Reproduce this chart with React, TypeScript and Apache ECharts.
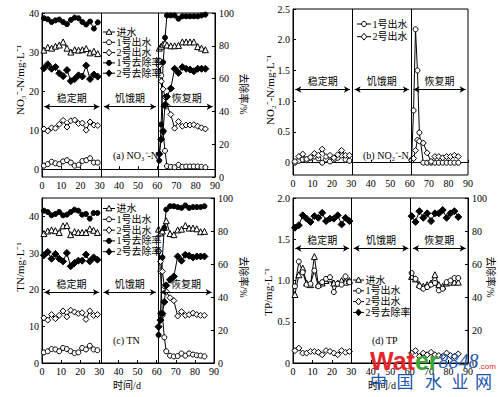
import React, { useEffect, useRef } from "react";
import * as echarts from "echarts";

const FONT = "'Liberation Serif', 'Times New Roman', 'Noto Sans CJK SC', serif";

// sampling days
const stableDays = [1, 3, 5, 7, 9, 11, 13, 15, 17, 19, 21, 23, 25, 27, 29];
const recDays = [61, 62, 63, 64, 65, 67, 69, 71, 73, 75, 77, 79, 81, 83, 85];
const recDaysTP = [61, 63, 65, 67, 69, 71, 73, 75, 77, 79, 81, 83, 85];

// (a) NO3--N
const no3InS = [30.5, 31.2, 31.0, 31.5, 31.8, 32.6, 31.0, 30.0, 30.6, 30.5, 30.6, 30.9, 29.8, 30.2, 29.6];
const no3Out1S = [0.9, 1.3, 1.9, 1.5, 1.3, 2.0, 2.3, 1.7, 0.9, 1.1, 2.1, 2.3, 2.8, 1.7, 1.7];
const no3Out2S = [10.3, 9.8, 10.6, 10.5, 11.5, 12.5, 10.8, 12.4, 12.6, 11.7, 11.8, 10.0, 12.1, 11.3, 11.2];
const no3Rem1S = [96.8, 96.2, 94.5, 95.5, 96.0, 94.5, 93.2, 95.8, 97.2, 96.8, 94.5, 93.0, 94.8, 90.5, 94.3];
const no3Rem2S = [66.3, 68.7, 66.0, 67.0, 63.2, 61.5, 65.2, 58.5, 59.7, 62.0, 61.3, 68.0, 59.7, 62.5, 61.2];
const no3InR = [31.0, 31.5, 32.0, 32.3, 31.8, 31.6, 31.6, 31.7, 32.6, 32.6, 32.6, 32.6, 31.4, 31.0, 30.6];
const no3Out1R = [27.8, 24.0, 9.5, 4.7, 0.8, 0.6, 0.5, 1.1, 0.6, 0.7, 0.7, 0.7, 0.7, 0.6, 0.5];
const no3Out2R = [26.5, 22.5, 20.5, 18.5, 16.3, 14.0, 10.5, 12.2, 11.0, 11.3, 11.3, 11.4, 11.0, 10.6, 10.3];
const no3Rem1R = [10, 32, 70, 85, 98.5, 98.5, 98.5, 96.5, 98, 98, 98, 98, 98, 98.5, 99];
const no3Rem2R = [14, 23, 28, 44, 49, 54, 66, 63.5, 67, 66, 65.5, 64.5, 66, 66, 66];

// (b) NO2--N
const no2Out1S = [0.0, 0.03, 0.05, 0.04, 0.08, 0.1, 0.07, 0.0, 0.05, 0.02, 0.05, 0.08, 0.12, 0.05, 0.03];
const no2Out2S = [0.02, 0.1, 0.14, 0.06, 0.09, 0.15, 0.12, 0.22, 0.1, 0.12, 0.08, 0.13, 0.2, 0.12, 0.12];
const no2Out1R = [0.05, 0.85, 2.17, 1.5, 0.49, 0.0, 0.0, 0.0, 0.0, 0.0, 0.0, 0.0, 0.0, 0.0, 0.0];
const no2Out2R = [0.04, 0.07, 0.2, 0.37, 0.35, 0.32, 0.16, 0.02, 0.1, 0.1, 0.08, 0.1, 0.1, 0.12, 0.1];

// (c) TN
const tnInS = [35.3, 36.0, 36.3, 36.1, 35.6, 37.4, 37.5, 35.0, 35.8, 35.6, 35.6, 35.6, 36.6, 36.2, 35.6];
const tnOut1S = [2.9, 3.2, 3.8, 3.7, 3.2, 4.1, 3.8, 3.2, 2.7, 2.9, 4.1, 3.7, 4.7, 3.7, 3.5];
const tnOut2S = [12.3, 11.7, 13.2, 12.1, 13.0, 14.2, 12.6, 14.4, 13.9, 13.5, 13.7, 11.9, 14.2, 13.0, 13.2];
const tnRem1S = [92.3, 91.5, 89.5, 90.3, 91.5, 89.5, 89.9, 91.5, 92.9, 92.3, 89.9, 90.3, 87.5, 90.9, 90.9];
const tnRem2S = [65.3, 67.3, 63.2, 66.1, 63.2, 61.6, 66.7, 58.6, 60.6, 62.0, 62.0, 65.7, 61.6, 64.0, 62.6];
const tnInR = [36.5, 35.5, 36.0, 37.0, 38.8, 35.3, 35.0, 36.3, 36.5, 37.5, 36.8, 36.8, 36.6, 35.8, 35.9];
const tnOut1R = [30.5, 25.0, 13.0, 7.0, 3.2, 2.0, 1.8, 1.9, 2.6, 2.0, 2.6, 2.3, 2.1, 2.0, 1.8];
const tnOut2R = [30.5, 27.7, 25.0, 21.0, 19.5, 17.8, 17.0, 12.8, 14.0, 13.0, 13.2, 13.6, 13.2, 13.0, 13.0];
const tnRem1R = [17, 30, 64, 82, 93, 95, 95, 94.5, 94, 95.5, 94, 94.5, 94.5, 94.5, 95];
const tnRem2R = [22, 26, 30, 37, 47, 50.5, 52.5, 64.6, 62, 65.6, 65, 64, 64.6, 64.6, 64.6];

// (d) TP
const tpInS = [0.83, 1.07, 1.15, 0.97, 0.95, 1.29, 0.95, 0.97, 1.0, 1.02, 0.97, 0.97, 1.0, 0.98, 1.0];
const tpOut1S = [0.93, 1.23, 1.1, 0.95, 0.96, 1.12, 0.93, 0.98, 1.02, 1.04, 0.86, 0.96, 0.95, 1.05, 0.98];
const tpOut2S = [0.15, 0.18, 0.12, 0.12, 0.14, 0.14, 0.13, 0.1, 0.15, 0.14, 0.12, 0.1, 0.15, 0.13, 0.14];
const tpRem2S = [82, 83.5, 89.5, 87.5, 85.5, 89, 88, 91, 86, 87.5, 87.5, 89.5, 84, 88, 86];
const tpInR = [1.05, 1.02, 0.95, 0.93, 0.95, 0.97, 1.07, 0.95, 0.93, 0.97, 0.98, 0.98, 0.98];
const tpOut1R = [1.09, 1.02, 0.93, 0.9, 0.92, 0.95, 0.97, 0.88, 0.9, 0.98, 1.0, 1.03, 1.03];
const tpOut2R = [0.12, 0.15, 0.08, 0.12, 0.1, 0.13, 0.1, 0.09, 0.08, 0.12, 0.09, 0.08, 0.11];
const tpRem2R = [89, 85.5, 92, 88, 90.7, 86, 90.7, 90.7, 92.7, 88, 90.7, 92, 88.5];

const periods = ["稳定期", "饥饿期", "恢复期"];
const names5 = ["进水", "1号出水", "2号出水", "1号去除率", "2号去除率"];
const namesTP = ["进水", "1号出水", "2号出水", "2号去除率"];

const STY: Record<string, { symbol: string; size: number; fill: string }> = {
  "进水": { symbol: "triangle", size: 6, fill: "#fff" },
  "1号出水": { symbol: "circle", size: 5, fill: "#fff" },
  "2号出水": { symbol: "diamond", size: 6, fill: "#fff" },
  "1号去除率": { symbol: "circle", size: 5, fill: "#000" },
  "2号去除率": { symbol: "diamond", size: 7, fill: "#000" },
};

function seg(d1: number[], v1: number[], d2: number[], v2: number[]) {
  return [
    ...d1.map((d, i) => [d, v1[i]]),
    [45, null],
    ...d2.map((d, i) => [d, v2[i]]),
  ];
}

function ser(name: string, data: any[], xi: number, yi: number, extra: any = {}) {
  const s = STY[name];
  return {
    type: "line",
    name,
    data,
    xAxisIndex: xi,
    yAxisIndex: yi,
    symbol: s.symbol,
    symbolSize: s.size,
    showAllSymbol: true,
    connectNulls: false,
    itemStyle: { color: s.fill, borderColor: "#000", borderWidth: 1 },
    lineStyle: { color: "#000", width: 1 },
    emphasis: { disabled: true },
    ...extra,
  };
}

function arrowsML(y: number, b1: number, b2: number) {
  return {
    silent: true,
    symbol: ["arrow", "arrow"],
    symbolSize: [5, 6],
    lineStyle: { color: "#000", width: 1, type: "solid" },
    label: { show: true, position: "middle", formatter: "{b}", color: "#000", fontSize: 10, fontFamily: FONT, distance: 3 },
    data: [
      [{ name: periods[0], coord: [1.2, y] }, { coord: [b1 - 1.2, y] }],
      [{ name: periods[1], coord: [b1 + 1.2, y] }, { coord: [b2 - 1.2, y] }],
      [{ name: periods[2], coord: [b2 + 1.2, y] }, { coord: [88.8, y] }],
    ],
  };
}

function vlinesML(b1: number, b2: number) {
  return {
    silent: true,
    symbol: "none",
    lineStyle: { color: "#000", width: 1, type: "solid" },
    label: { show: false },
    data: [{ xAxis: b1 }, { xAxis: b2 }],
  };
}

const axisCommon = {
  axisLine: { show: true, lineStyle: { color: "#000", width: 1 } },
  splitLine: { show: false },
};

function xAx(gi: number) {
  return {
    type: "value", gridIndex: gi, min: 0, max: 90, interval: 10,
    ...axisCommon,
    axisTick: { inside: true, length: 3, lineStyle: { color: "#000" } },
    axisLabel: { color: "#000", fontSize: 10, fontFamily: FONT, margin: 3 },
  };
}

function yAx(gi: number, pos: string, min: number, max: number, opts: any = {}) {
  const { custom, interval, fmt } = opts;
  return {
    type: "value", gridIndex: gi, position: pos, min, max,
    ...(interval ? { interval } : {}),
    ...axisCommon,
    axisTick: { inside: true, length: 3, lineStyle: { color: "#000" }, ...(custom ? { customValues: custom } : {}) },
    axisLabel: {
      color: "#000", fontSize: 10, fontFamily: FONT, margin: pos === "left" ? 3 : 4,
      ...(custom ? { customValues: custom } : {}),
      ...(fmt ? { formatter: fmt } : {}),
    },
  };
}

const dec = (v: number) => (v === 0 ? "0" : v.toFixed(1));

// hand-drawn legend: line + marker + text
function legendG(names: string[], x0: number, y0: number, pitch: number, lineW = 12) {
  const els: any[] = [];
  names.forEach((n, i) => {
    const y = y0 + i * pitch;
    const cx = x0 + lineW / 2;
    const s = STY[n];
    const st = { fill: s.fill, stroke: "#000", lineWidth: 1 };
    els.push({ type: "line", z: 60, shape: { x1: x0, y1: y, x2: x0 + lineW, y2: y }, style: { stroke: "#000", lineWidth: 1 } });
    if (s.symbol === "circle") {
      els.push({ type: "circle", z: 61, shape: { cx, cy: y, r: 2.5 }, style: st });
    } else if (s.symbol === "triangle") {
      els.push({ type: "polygon", z: 61, shape: { points: [[cx, y - 3], [cx - 3, y + 2.3], [cx + 3, y + 2.3]] }, style: st });
    } else {
      els.push({ type: "polygon", z: 61, shape: { points: [[cx, y - 3.4], [cx + 2.8, y], [cx, y + 3.4], [cx - 2.8, y]] }, style: st });
    }
    els.push({
      type: "text", z: 61, x: x0 + lineW + 1.5, y,
      style: { text: n, fill: "#000", fontSize: 10, fontFamily: FONT, align: "left", verticalAlign: "middle" },
    });
  });
  return els;
}

function txt(text: string, x: number, y: number, size = 10, rot = 0, align = "left") {
  return {
    type: "text", x, y, rotation: rot, z: 50,
    style: { text, fill: "#000", fontSize: size, fontFamily: FONT, align, verticalAlign: "middle" },
  };
}

export default function App() {
  const ref = useRef<HTMLDivElement>(null);
  useEffect(() => {
    const chart = echarts.init(ref.current!, null, { renderer: "svg" });
    const grids = [
      { left: 42, top: 13, width: 173, height: 164 },
      { left: 293, top: 9, width: 175, height: 166 },
      { left: 42, top: 198, width: 172, height: 165 },
      { left: 293, top: 198, width: 175, height: 165 },
    ].map((g) => ({ ...g, show: true, borderColor: "#000", borderWidth: 1, backgroundColor: "transparent" }));

    const option: any = {
      animation: false,
      backgroundColor: "#fff",
      grid: grids,
      xAxis: [xAx(0), xAx(1), xAx(2), xAx(3)],
      yAxis: [
        yAx(0, "left", -2, 40, { custom: [0, 10, 20, 30, 40] }),
        yAx(0, "right", 0, 100, { interval: 20 }),
        yAx(1, "left", -0.2, 2.5, { custom: [0, 0.5, 1, 1.5, 2, 2.5], fmt: dec }),
        yAx(2, "left", 0, 45, { custom: [0, 10, 20, 30, 40] }),
        yAx(2, "right", 0, 100, { interval: 20 }),
        yAx(3, "left", 0, 2, { interval: 0.5, fmt: dec }),
        yAx(3, "right", 0, 100, { interval: 20 }),
      ],
      series: [
        // (a)
        ser("进水", seg(stableDays, no3InS, recDays, no3InR), 0, 0, { markLine: arrowsML(16, 31, 60.5) }),
        ser("1号出水", seg(stableDays, no3Out1S, recDays, no3Out1R), 0, 0, { markLine: vlinesML(31, 60.5) }),
        ser("2号出水", seg(stableDays, no3Out2S, recDays, no3Out2R), 0, 0),
        ser("1号去除率", seg(stableDays, no3Rem1S, recDays, no3Rem1R), 0, 1),
        ser("2号去除率", seg(stableDays, no3Rem2S, recDays, no3Rem2R), 0, 1),
        // (b)
        ser("1号出水", seg(stableDays, no2Out1S, recDays, no2Out1R), 1, 2, { markLine: arrowsML(1.19, 30.5, 60.8) }),
        ser("2号出水", seg(stableDays, no2Out2S, recDays, no2Out2R), 1, 2, { markLine: vlinesML(30.5, 60.8) }),
        // (c)
        ser("进水", seg(stableDays, tnInS, recDays, tnInR), 2, 3, { markLine: arrowsML(19.3, 31, 60.8) }),
        ser("1号出水", seg(stableDays, tnOut1S, recDays, tnOut1R), 2, 3, { markLine: vlinesML(31, 60.8) }),
        ser("2号出水", seg(stableDays, tnOut2S, recDays, tnOut2R), 2, 3),
        ser("1号去除率", seg(stableDays, tnRem1S, recDays, tnRem1R), 2, 4),
        ser("2号去除率", seg(stableDays, tnRem2S, recDays, tnRem2R), 2, 4),
        // (d)
        ser("进水", seg(stableDays, tpInS, recDaysTP, tpInR), 3, 5, { markLine: arrowsML(1.39, 30, 60.5) }),
        ser("1号出水", seg(stableDays, tpOut1S, recDaysTP, tpOut1R), 3, 5, { markLine: vlinesML(30, 60.5) }),
        ser("2号出水", seg(stableDays, tpOut2S, recDaysTP, tpOut2R), 3, 5),
        ser("2号去除率", seg(stableDays, tpRem2S, recDaysTP, tpRem2R), 3, 6),
      ],
      graphic: [
        ...legendG(names5, 103, 32, 10.3),
        ...legendG(["1号出水", "2号出水"], 357, 24, 12.7, 14),
        ...legendG(names5, 103, 208.5, 10.8),
        ...legendG(namesTP, 353, 280, 10.8, 11),
        txt("(a) NO₃⁻-N", 113, 155),
        txt("(b) NO₂⁻-N", 363, 155),
        txt("(c) TN", 113, 340),
        txt("(d) TP", 372, 340),
        txt("NO₃⁻-N/mg·L⁻¹", 20, 80, 11, Math.PI / 2, "center"),
        txt("去除率/%", 243, 94, 10, -Math.PI / 2, "center"),
        txt("NO₂⁻-N/mg·L⁻¹", 270, 90, 11, Math.PI / 2, "center"),
        txt("TN/mg·L⁻¹", 20, 267, 11, Math.PI / 2, "center"),
        txt("去除率/%", 243, 277, 10, -Math.PI / 2, "center"),
        txt("TP/mg·L⁻¹", 268, 292, 11, Math.PI / 2, "center"),
        txt("去除率/%", 490, 277, 10, -Math.PI / 2, "center"),
        txt("时间/d", 127, 385, 10, 0, "center"),
        txt("时间/d", 382, 385, 10, 0, "center"),
        // watermark
        {
          type: "text", x: 370, y: 361, z: 100,
          style: {
            text: "{r|Wat}{g|er}{b|8848}{c|.com}",
            verticalAlign: "middle",
            rich: {
              r: { fill: "#e3262b", fontSize: 25, fontWeight: "bold", fontFamily: "'Liberation Sans', Arial, sans-serif" },
              g: { fill: "#3aa635", fontSize: 25, fontWeight: "bold", fontFamily: "'Liberation Sans', Arial, sans-serif" },
              b: { fill: "#2a5db0", fontSize: 20, fontStyle: "italic", fontFamily: "'Liberation Serif', serif" },
              c: { fill: "#e3262b", fontSize: 8, fontFamily: "'Liberation Sans', Arial, sans-serif", padding: [10, 0, 0, 0] },
            },
          },
        },
        ...["中", "国", "水", "业", "网"].map((ch, i) => ({
          type: "text", x: [378.5, 405, 433.5, 460, 483.5][i], y: 380, z: 100,
          style: { text: ch, fill: "#1a56b0", fontSize: 17, fontFamily: "'Noto Sans CJK SC', sans-serif", align: "center", verticalAlign: "middle" },
        })),
      ],
    };
    chart.setOption(option);
    return () => chart.dispose();
  }, []);
  return (
    <div
      ref={ref}
      style={{ position: "absolute", left: 0, top: 0, width: 500, height: 397, background: "#fff" }}
    />
  );
}
